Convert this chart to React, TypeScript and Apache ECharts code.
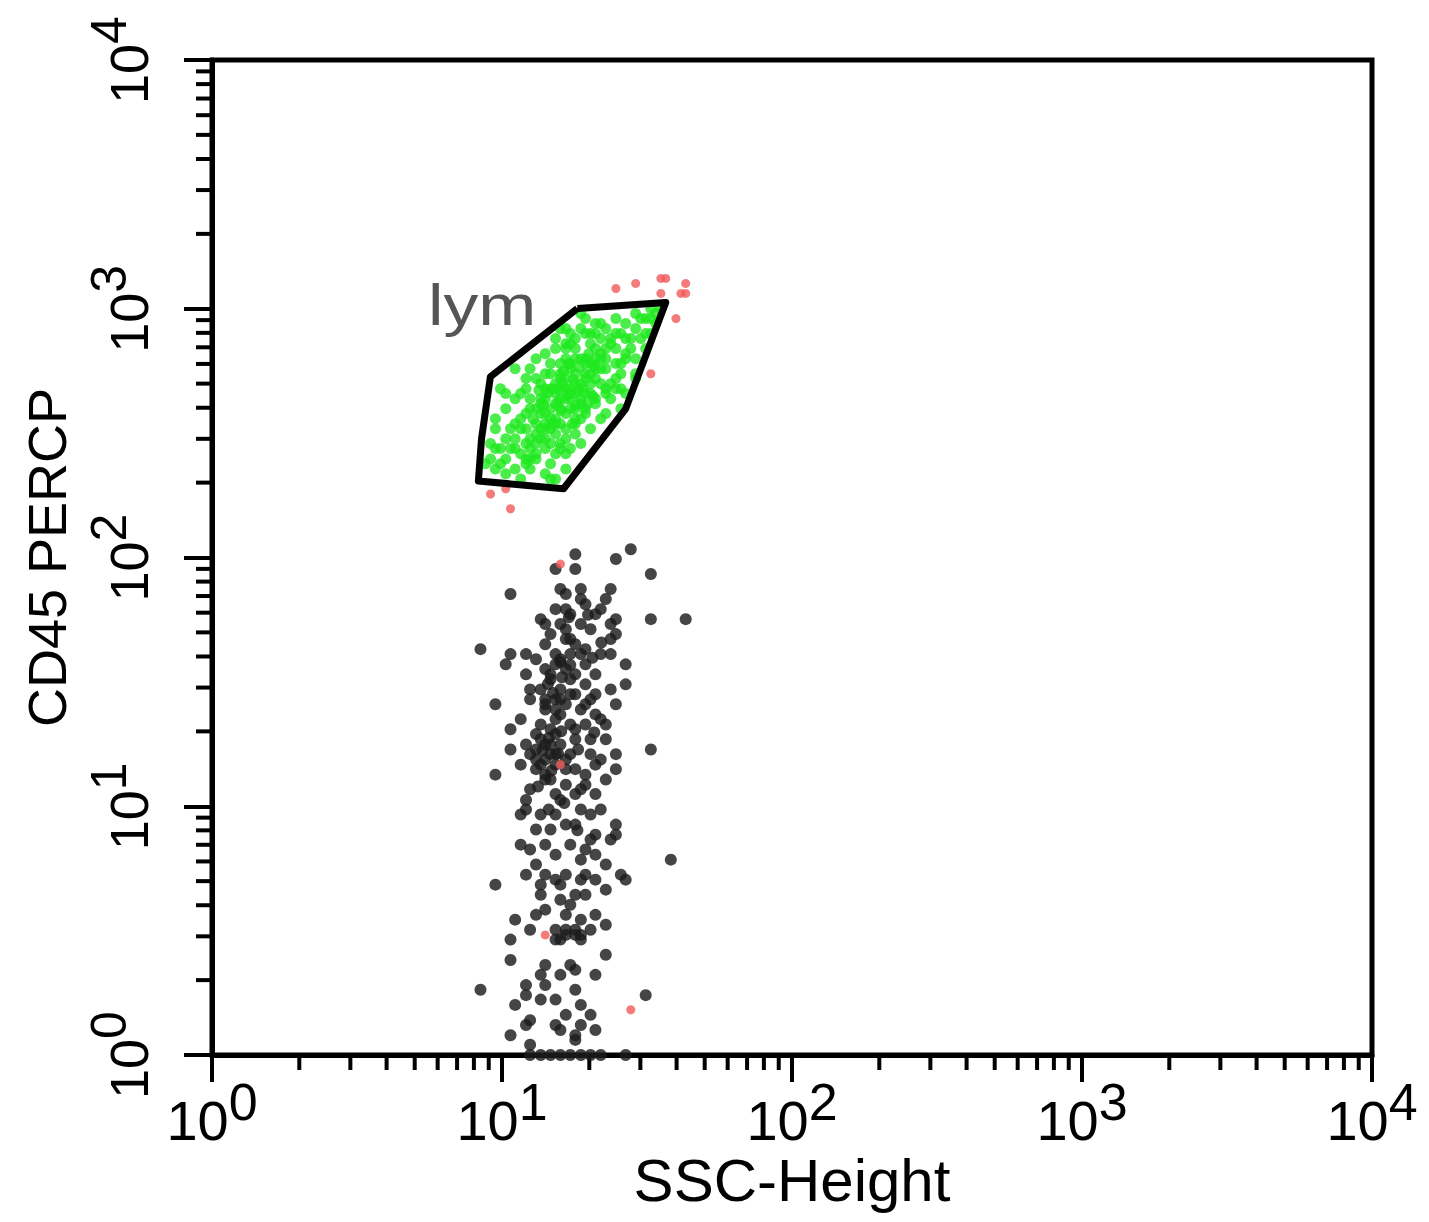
import React, { useEffect, useRef } from "react";
import * as echarts from "echarts";

// Axis decades (log10 scale, 10^0 .. 10^4)
const decadeTicks = [1, 10, 100, 1000, 10000];
const minorMultipliers = [2, 3, 4, 5, 6, 7, 8, 9];

// Gate "lym" vertices: SSC-Height, CD45 PERCP
const gateSSC = [18.2, 36.7, 26.7, 16.3, 8.29, 8.5, 9.12, 18.2];
const gateCD45 = [1002, 1060, 396, 189, 203, 300, 533, 1002];

// Events inside the lym gate (green)
const lymEvents: [number, number][] = [
  [32.6, 1002], [33.9, 957], [31.3, 913], [28.9, 957], [26.7, 872], [24.7, 913], [28.9, 832], [31.3, 795], [27.8, 759], [25.7, 795],
  [22.8, 832], [21.0, 872], [19.4, 913], [18.7, 957], [18.7, 832], [21.9, 759], [24.7, 692], [26.7, 660], [28.9, 630], [24.7, 602],
  [22.8, 630], [20.2, 795], [17.2, 795], [16.6, 724], [17.9, 692], [21.0, 692], [19.4, 630], [21.9, 574], [24.7, 524], [25.7, 477],
  [22.8, 477], [19.4, 524], [16.6, 630], [15.3, 692], [14.7, 602], [14.1, 548], [15.9, 548], [17.9, 548], [20.2, 456], [23.7, 435],
  [21.0, 415], [18.7, 435], [16.6, 477], [15.3, 477], [13.1, 524], [12.1, 524], [11.1, 574], [12.1, 477], [13.6, 435], [15.3, 415],
  [17.2, 396], [19.4, 379], [17.9, 361], [15.3, 361], [14.1, 379], [12.5, 396], [11.1, 435], [10.3, 396], [11.6, 361], [13.1, 345],
  [14.7, 329], [16.6, 329], [17.9, 314], [15.9, 287], [14.1, 300], [13.1, 314], [12.1, 329], [10.7, 329], [9.49, 361], [9.49, 329],
  [10.3, 300], [11.1, 300], [12.5, 274], [14.1, 274], [15.3, 261], [16.6, 261], [14.7, 238], [13.1, 249], [12.1, 249], [10.7, 274],
  [9.49, 274], [9.13, 287], [9.13, 249], [10.3, 249], [11.1, 227], [12.5, 227], [14.1, 217], [15.3, 207], [10.3, 217], [9.49, 227],
  [11.6, 207], [14.7, 207], [16.6, 227], [17.2, 274], [18.7, 287], [20.2, 329], [21.9, 361], [22.8, 379], [25.7, 396], [26.7, 456],
  [28.9, 524], [28.9, 548], [31.3, 692], [33.9, 872], [35.3, 1002], [24.7, 795], [16.6, 832], [15.3, 759], [13.1, 630], [12.5, 574],
  [10.3, 456], [9.88, 477], [17.2, 477], [21.0, 524], [15.9, 524], [17.2, 574], [14.7, 477], [17.9, 456], [15.9, 435], [14.1, 435],
  [16.6, 379], [18.7, 500], [20.2, 548], [19.4, 602], [17.9, 630], [15.9, 602], [14.7, 548], [13.6, 500], [12.5, 435], [13.6, 379],
  [15.3, 314], [20.6, 445], [21.9, 500], [22.8, 574], [21.0, 630], [17.2, 724], [20.2, 724], [21.9, 660], [23.7, 724], [13.6, 329],
  [12.1, 287], [11.6, 261], [13.1, 287], [14.1, 345], [15.9, 345], [18.7, 361], [16.6, 524], [15.3, 456], [17.2, 435], [19.4, 456],
  [17.9, 396], [14.7, 396], [12.1, 379], [11.1, 345], [9.88, 274], [9.88, 238], [8.77, 238], [26.7, 759], [30.1, 913], [21.9, 872],
  [15.9, 832], [14.1, 660], [11.6, 456], [23.7, 500], [25.7, 602],
  [16.2, 500], [17.6, 520], [18.3, 470], [16.9, 450], [15.6, 420], [14.4, 460], [13.9, 410], [16.0, 390], [18.0, 410], [19.0, 480],
  [17.0, 600], [18.5, 580], [20.8, 590], [19.9, 660], [16.3, 560], [13.4, 470], [12.8, 360], [14.9, 345], [17.5, 345], [19.7, 415],
  [12.5, 300], [13.6, 300], [14.7, 287], [14.1, 329], [15.3, 345], [15.9, 396], [17.2, 456], [17.9, 500], [19.4, 548], [20.2, 602],
  [21.9, 630], [22.8, 692], [23.7, 759], [15.3, 500], [15.9, 477], [16.6, 435], [14.7, 361], [13.1, 261], [12.5, 249], [12.1, 238],
  [18.7, 415], [20.2, 500], [21.0, 574], [18.7, 630], [17.2, 602], [16.6, 692], [17.9, 759], [19.4, 795], [21.0, 795], [14.1, 477],
  [13.1, 396], [13.6, 415], [11.6, 329], [11.1, 274], [15.9, 274], [16.6, 300], [17.9, 345], [19.4, 396], [21.0, 435], [22.8, 456],
  [24.7, 477], [25.7, 548], [26.7, 630], [27.8, 692], [30.1, 759], [32.6, 795], [32.6, 913],
];

// Events outside the gate above the debris (red)
const outsideEvents: [number, number][] = [
  [24.7, 1206], [28.9, 1264], [35.3, 1324], [36.7, 1324], [43.0, 1264], [41.4, 1152], [43.0, 1152], [35.3, 1152], [39.8, 913],
  [32.6, 548], [9.13, 180], [10.3, 189], [10.7, 157], [15.9, 94.1], [15.9, 14.7], [14.1, 3.04], [27.8, 1.52],
];

// CD45-low events (black)
const otherEvents: [number, number][] = [
  [17.9, 103], [17.9, 89.9], [15.3, 89.9], [24.7, 98.6], [27.8, 108], [32.6, 85.8], [10.7, 71.3], [15.9, 74.7], [16.6, 71.3], [18.7, 74.7],
  [18.7, 68.1], [23.7, 74.7], [22.8, 68.1], [21.9, 62.0], [15.3, 62.0], [16.6, 62.0], [13.6, 56.5], [14.1, 54.0], [24.7, 56.5], [23.7, 54.0],
  [32.6, 56.5], [43.0, 56.5], [8.43, 42.8], [10.7, 40.9], [12.1, 40.9], [10.3, 37.2], [24.7, 49.2], [23.7, 47.0], [23.7, 40.9], [26.7, 37.2],
  [26.7, 30.9], [23.7, 29.5], [12.1, 33.9], [12.5, 29.5], [9.49, 25.7], [24.7, 25.7], [16.6, 51.5], [18.7, 54.0], [20.2, 51.5], [16.6, 47.0],
  [17.9, 44.8], [19.4, 42.8], [14.1, 44.8], [15.3, 40.9], [17.2, 40.9], [15.3, 37.2], [19.4, 37.2], [14.1, 35.6], [16.6, 35.6], [21.0, 33.9],
  [14.7, 32.4], [17.2, 32.4], [19.4, 30.9], [13.6, 29.5], [15.9, 29.5], [17.9, 28.2], [21.0, 28.2], [14.1, 26.9], [16.6, 25.7], [19.4, 25.7],
  [15.3, 24.5], [32.6, 16.9], [9.49, 13.4], [10.7, 16.9], [10.7, 20.4], [11.6, 14.7], [12.1, 10.6], [11.6, 9.26], [12.1, 9.70], [13.1, 8.06],
  [15.3, 9.26], [16.6, 8.44], [18.7, 9.70], [20.2, 9.26], [24.7, 8.44], [24.7, 7.69], [21.0, 7.69], [11.6, 7.01], [14.1, 7.01], [17.2, 7.01],
  [19.4, 6.70], [23.7, 7.35], [13.1, 5.83], [15.3, 6.39], [18.7, 6.10], [21.0, 6.39], [22.8, 5.83], [12.1, 5.31], [14.1, 5.31], [16.6, 5.31],
  [19.4, 5.31], [25.7, 5.31], [14.1, 25.7], [15.9, 26.9], [18.7, 24.5], [21.0, 23.4], [15.3, 22.4], [17.2, 21.3], [19.4, 21.3], [22.8, 21.3],
  [13.1, 19.5], [15.3, 19.5], [17.9, 18.6], [22.8, 18.6], [13.1, 16.9], [14.7, 16.2], [17.2, 16.2], [20.2, 16.2], [24.7, 16.2], [13.6, 14.7],
  [17.9, 14.1], [21.0, 14.7], [24.7, 14.1], [14.1, 12.8], [16.6, 12.2], [19.4, 12.2], [22.8, 12.8], [15.3, 11.2], [17.9, 11.2], [21.0, 11.2],
  [12.5, 11.7], [14.1, 13.4], [15.9, 17.7], [14.7, 20.4], [19.4, 13.4], [14.1, 15.4], [15.3, 14.7], [13.1, 14.1], [14.7, 17.7], [16.6, 15.4],
  [13.6, 18.6], [12.5, 16.2], [9.49, 4.84], [13.6, 4.84], [15.3, 5.07], [18.7, 5.07], [21.0, 5.07], [26.7, 5.07], [22.8, 4.62], [17.9, 4.41],
  [13.6, 4.41], [15.9, 4.21], [14.1, 3.84], [16.6, 3.66], [13.1, 3.66], [11.1, 3.50], [21.0, 3.66], [18.7, 3.50], [22.8, 3.34], [20.2, 3.19],
  [12.5, 3.19], [15.3, 3.19], [16.6, 3.19], [17.9, 3.04], [15.9, 2.91], [18.7, 2.91], [10.7, 2.91], [10.7, 2.41], [22.8, 2.53], [14.1, 2.30],
  [17.2, 2.30], [17.9, 2.20], [15.9, 2.10], [21.0, 2.10], [13.6, 2.10], [14.1, 1.91], [12.1, 1.91], [8.43, 1.83], [17.9, 1.83], [12.1, 1.74],
  [13.6, 1.67], [15.3, 1.67], [31.3, 1.74], [11.1, 1.59], [18.7, 1.59], [16.6, 1.45], [20.2, 1.45], [12.1, 1.32], [12.5, 1.38], [15.3, 1.32],
  [15.9, 1.26], [18.7, 1.32], [21.0, 1.26], [10.7, 1.20], [17.9, 1.20], [17.9, 1.15], [12.5, 1.10],
  [12.5, 1.0], [13.6, 1.0], [14.7, 1.0], [15.9, 1.0], [17.2, 1.0], [18.7, 1.0], [20.2, 1.0], [21.9, 1.0], [26.7, 1.0], [38.2, 6.10],
  [15.9, 38.0], [17.2, 37.0], [16.1, 33.0], [14.4, 31.0], [15.0, 28.5], [16.0, 20.0], [14.5, 18.8], [13.8, 16.8], [15.6, 16.3], [14.8, 13.9],
  [13.3, 12.0], [16.4, 10.3], [18.2, 8.0], [14.5, 9.7], [20.8, 19.8], [18.3, 16.9], [19.8, 58.8], [17.0, 57.5], [22.0, 45.5], [20.5, 39.5],
  [14.7, 49.2], [15.9, 54.0], [17.2, 47.0], [18.7, 40.9], [15.9, 39.0], [14.7, 33.9], [17.9, 33.9], [17.2, 28.2], [14.1, 24.5], [15.3, 26.9],
  [20.2, 26.9], [21.9, 22.4], [15.9, 23.4], [13.6, 21.3], [17.9, 20.4], [20.2, 18.6], [14.1, 17.7], [15.3, 16.2], [16.6, 14.1], [14.7, 12.8],
  [15.9, 10.6], [18.7, 11.7], [21.9, 15.4], [13.1, 15.4], [12.1, 17.7], [11.6, 22.4], [12.5, 26.9], [13.1, 39.0], [21.9, 40.9], [21.0, 59.2],
  [17.2, 59.2], [19.4, 64.9], [16.6, 3.04], [17.9, 3.19], [18.7, 3.04], [15.3, 2.91], [17.2, 4.02], [15.9, 4.84], [19.4, 4.41], [14.7, 8.06],
  [17.9, 8.44], [20.2, 7.35], [13.6, 9.26], [21.9, 9.70], [12.5, 6.70],
];

const FONT = "'Liberation Sans', Arial, Helvetica, sans-serif";

export default function App() {
  const ref = useRef<HTMLDivElement>(null);

  useEffect(() => {
    const chart = echarts.init(ref.current!, null, { renderer: "svg" });
    const minorTicks = decadeTicks
      .slice(0, -1)
      .flatMap((d) => minorMultipliers.map((m) => m * d));
    const expLabel = (v: number) => `{b|10}{s|${Math.round(Math.log10(v))}}`;
    const gate = gateSSC.map((x, i) => [x, gateCD45[i]]);

    const xRich = {
      b: { fontSize: 56, fontFamily: FONT, color: "#000", verticalAlign: "bottom", lineHeight: 72 },
      s: { fontSize: 52, fontFamily: FONT, color: "#000", verticalAlign: "top", lineHeight: 72 },
    };
    const yRich = {
      b: { fontSize: 54, fontFamily: FONT, color: "#000", verticalAlign: "bottom", lineHeight: 72 },
      s: { fontSize: 50, fontFamily: FONT, color: "#000", verticalAlign: "top", lineHeight: 72 },
    };

    chart.setOption({
      animation: false,
      backgroundColor: "#fff",
      grid: {
        left: 212,
        right: 57,
        top: 60,
        bottom: 167,
        show: true,
        borderColor: "#000",
        borderWidth: 5,
        backgroundColor: "#fff",
      },
      xAxis: {
        type: "log",
        logBase: 10,
        min: 1,
        max: 10000,
        splitNumber: 4,
        name: "SSC-Height",
        nameLocation: "middle",
        nameGap: 95,
        nameMoveOverlap: false,
        nameTextStyle: { fontSize: 60, fontFamily: FONT, color: "#000" },
        axisLine: { show: true, lineStyle: { color: "#000", width: 5 } },
        axisTick: { show: true, inside: false, length: 27, lineStyle: { color: "#000", width: 4 } },
        axisLabel: { margin: 21, formatter: expLabel, rich: xRich },
        splitLine: { show: false },
        minorTick: { show: false },
      },
      yAxis: {
        type: "log",
        logBase: 10,
        min: 1,
        max: 10000,
        splitNumber: 4,
        name: "CD45 PERCP",
        nameLocation: "middle",
        nameGap: 138,
        nameMoveOverlap: false,
        nameRotate: 90,
        nameTextStyle: { fontSize: 54, fontFamily: FONT, color: "#000" },
        axisLine: { show: true, lineStyle: { color: "#000", width: 5 } },
        axisTick: { show: true, inside: false, length: 28, lineStyle: { color: "#000", width: 4 } },
        axisLabel: { margin: 56, rotate: 90, formatter: expLabel, rich: yRich },
        splitLine: { show: false },
        minorTick: { show: false },
      },
      graphic: [
        {
          type: "text",
          left: 428,
          top: 276,
          scaleX: 1.2,
          style: { text: "lym", fontSize: 58, fontFamily: FONT, fill: "#555" },
        },
      ],
      series: [
        {
          type: "scatter",
          name: "other",
          data: otherEvents,
          symbolSize: 12,
          itemStyle: { color: "#1c1c1c", opacity: 0.82 },
          silent: true,
        },
        {
          type: "scatter",
          name: "outside",
          data: outsideEvents,
          symbolSize: 9,
          itemStyle: { color: "#f05a5a", opacity: 0.8 },
          silent: true,
        },
        {
          type: "scatter",
          name: "lym",
          data: lymEvents,
          symbolSize: 11,
          itemStyle: { color: "#1ee81e" },
          silent: true,
        },
        {
          type: "line",
          name: "gate",
          data: gate,
          symbol: "none",
          lineStyle: { color: "#000", width: 7, join: "round" },
          silent: true,
          z: 5,
        },
        {
          type: "custom",
          name: "xMinor",
          data: minorTicks.map((v) => [v, 1]),
          clip: false,
          silent: true,
          renderItem: (_p: any, api: any) => {
            const pt = api.coord([api.value(0), api.value(1)]);
            return {
              type: "line",
              shape: { x1: pt[0], y1: pt[1], x2: pt[0], y2: pt[1] + 15 },
              style: { stroke: "#000", lineWidth: 4 },
            };
          },
        },
        {
          type: "custom",
          name: "yMinor",
          data: minorTicks.map((v) => [1, v]),
          clip: false,
          silent: true,
          renderItem: (_p: any, api: any) => {
            const pt = api.coord([api.value(0), api.value(1)]);
            return {
              type: "line",
              shape: { x1: pt[0], y1: pt[1], x2: pt[0] - 16, y2: pt[1] },
              style: { stroke: "#000", lineWidth: 4 },
            };
          },
        },
      ],
    });

    return () => chart.dispose();
  }, []);

  return (
    <div
      ref={ref}
      style={{ position: "fixed", left: 0, top: 0, width: 1429, height: 1222, background: "#fff" }}
    />
  );
}
